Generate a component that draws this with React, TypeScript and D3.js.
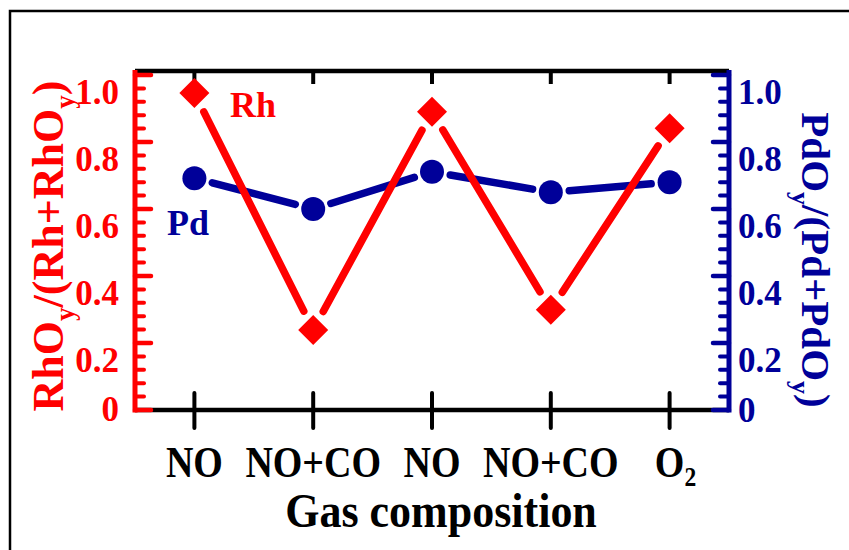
import React from "react";
import * as d3 from "d3";

const categories = ["NO", "NO+CO", "NO", "NO+CO", "O2"];
const rhValues = [0.946, 0.239, 0.89, 0.299, 0.841];
const pdValues = [0.692, 0.6, 0.711, 0.65, 0.68];
const majorTicks = [0, 0.2, 0.4, 0.6, 0.8, 1.0];
const minorTicks = d3.range(0, 26).map((i) => i * 0.04).filter((v) => v <= 1.0001);

const RED = "#ff0000";
const BLUE = "#000099";
const FONT = "'Liberation Serif', 'Times New Roman', serif";

const W = 849;
const H = 550;
const L = 135;
const R = 729;
const TOP = 71;
const BOT = 410;

function gapSegments(pts: [number, number][], g: number) {
  const segs: [number, number, number, number][] = [];
  for (let i = 0; i < pts.length - 1; i++) {
    const [x0, y0] = pts[i];
    const [x1, y1] = pts[i + 1];
    const dx = x1 - x0;
    const dy = y1 - y0;
    const len = Math.hypot(dx, dy);
    const ux = dx / len;
    const uy = dy / len;
    segs.push([x0 + ux * g, y0 + uy * g, x1 - ux * g, y1 - uy * g]);
  }
  return segs;
}

export default function App() {
  const x = d3.scalePoint<number>().domain(d3.range(categories.length)).range([L, R]).padding(0.5);
  const y = d3.scaleLinear().domain([0, 1.0119]).range([BOT, TOP]);

  const rhPts = rhValues.map((v, i) => [x(i)!, y(v)] as [number, number]);
  const pdPts = pdValues.map((v, i) => [x(i)!, y(v)] as [number, number]);
  const diamond = d3.symbol().type(d3.symbolSquare).size(450)();

  const tickLabelY = (v: number) => (v === 0 ? y(v) - 1 : y(v) + 17.5);
  const fmt = (v: number) => (v === 0 ? "0" : d3.format(".1f")(v));

  const xfs = 38;
  const yfs = 35;
  const xLabelBase = 477;
  const xStretch = 1.16;

  return (
    <svg width={W} height={H} style={{ position: "absolute", left: 0, top: 0, background: "#fff" }} fontFamily={FONT} fontWeight="bold">
      <rect x={0} y={0} width={W} height={H} fill="#fff" />
      <path d={`M10,${H + 5} L10,11 L${W + 5},11`} fill="none" stroke="#000" strokeWidth={2.5} />

      {/* top & bottom black axes */}
      <line x1={L} x2={R} y1={TOP} y2={TOP} stroke="#000" strokeWidth={4.5} />
      <line x1={L} x2={R} y1={BOT} y2={BOT} stroke="#000" strokeWidth={4.5} />
      {categories.map((c, i) => (
        <g key={"xt" + i}>
          <line x1={x(i)} x2={x(i)} y1={TOP} y2={TOP + 13} stroke="#000" strokeWidth={4} />
          <line x1={x(i)} x2={x(i)} y1={BOT - 17} y2={BOT + 18} stroke="#000" strokeWidth={4} strokeLinecap="round" />
        </g>
      ))}

      {/* left red axis */}
      <line x1={L} x2={L} y1={TOP - 1} y2={BOT + 2.5} stroke={RED} strokeWidth={5} />
      {minorTicks.map((v, i) => (
        <line key={"lm" + i} x1={L} x2={L + 9} y1={y(v)} y2={y(v)} stroke={RED} strokeWidth={4} strokeLinecap="round" />
      ))}
      {majorTicks.map((v, i) => (
        <line key={"lM" + i} x1={L} x2={L + 16} y1={y(v)} y2={y(v)} stroke={RED} strokeWidth={4.5} strokeLinecap="round" />
      ))}
      {majorTicks.map((v, i) => (
        <text key={"ll" + i} x={119} y={tickLabelY(v) + 0.338 * yfs} fill={RED} fontSize={yfs} textAnchor="end">
          {fmt(v)}
        </text>
      ))}

      {/* right blue axis */}
      <line x1={R} x2={R} y1={TOP - 1} y2={BOT + 2.5} stroke={BLUE} strokeWidth={5} />
      {minorTicks.map((v, i) => (
        <line key={"rm" + i} x1={R} x2={R - 9} y1={y(v)} y2={y(v)} stroke={BLUE} strokeWidth={4} strokeLinecap="round" />
      ))}
      {majorTicks.map((v, i) => (
        <line key={"rM" + i} x1={R} x2={R - 16} y1={y(v)} y2={y(v)} stroke={BLUE} strokeWidth={4.5} strokeLinecap="round" />
      ))}
      {majorTicks.map((v, i) => (
        <text key={"rl" + i} x={738} y={tickLabelY(v) + 0.338 * yfs + (v === 0 ? 1.5 : 0)} fill={BLUE} fontSize={yfs} textAnchor="start">
          {fmt(v)}
        </text>
      ))}

      {/* x tick labels */}
      {categories.map((c, i) =>
        c === "O2" ? (
          <text key={"xl" + i} transform={`translate(${x(i)! - 0.389 * xfs},${xLabelBase}) scale(1,${xStretch})`} fontSize={xfs} fill="#000">
            O<tspan fontSize={xfs * 0.62} dy={8}>2</tspan>
          </text>
        ) : (
          <text key={"xl" + i} transform={`translate(${x(i)},${xLabelBase}) scale(1,${xStretch})`} fontSize={xfs} fill="#000" textAnchor="middle">
            {c}
          </text>
        )
      )}
      <text transform="translate(441,527) scale(1,1.1)" fontSize={44} fill="#000" textAnchor="middle">
        Gas composition
      </text>

      {/* axis titles */}
      <text transform="translate(63,246) rotate(-90)" fontSize={44} fill={RED} textAnchor="middle">
        RhO<tspan fontSize={27} dy={11}>y</tspan>
        <tspan dy={-11}>/(Rh+RhO</tspan>
        <tspan fontSize={27} dy={11}>y</tspan>
        <tspan dy={-11}>)</tspan>
      </text>
      <text transform="translate(802,260) rotate(90)" fontSize={41} fill={BLUE} textAnchor="middle">
        PdO<tspan fontSize={26} dy={10}>y</tspan>
        <tspan dy={-10}>/(Pd+PdO</tspan>
        <tspan fontSize={26} dy={10}>y</tspan>
        <tspan dy={-10}>)</tspan>
      </text>

      {/* Pd series */}
      {gapSegments(pdPts, 18.5).map((s, i) => (
        <line key={"pdl" + i} x1={s[0]} y1={s[1]} x2={s[2]} y2={s[3]} stroke={BLUE} strokeWidth={7.5} strokeLinecap="round" />
      ))}
      {pdPts.map((p, i) => (
        <circle key={"pdc" + i} cx={p[0]} cy={p[1]} r={12} fill={BLUE} />
      ))}

      {/* Rh series */}
      {gapSegments(rhPts, 21).map((s, i) => (
        <line key={"rhl" + i} x1={s[0]} y1={s[1]} x2={s[2]} y2={s[3]} stroke={RED} strokeWidth={7.5} strokeLinecap="round" />
      ))}
      {rhPts.map((p, i) => (
        <path key={"rhd" + i} d={diamond!} transform={`translate(${p[0]},${p[1]}) rotate(45)`} fill={RED} />
      ))}

      <text x={230} y={117} fontSize={36} fill={RED}>Rh</text>
      <text x={167} y={235} fontSize={36} fill={BLUE}>Pd</text>
    </svg>
  );
}
